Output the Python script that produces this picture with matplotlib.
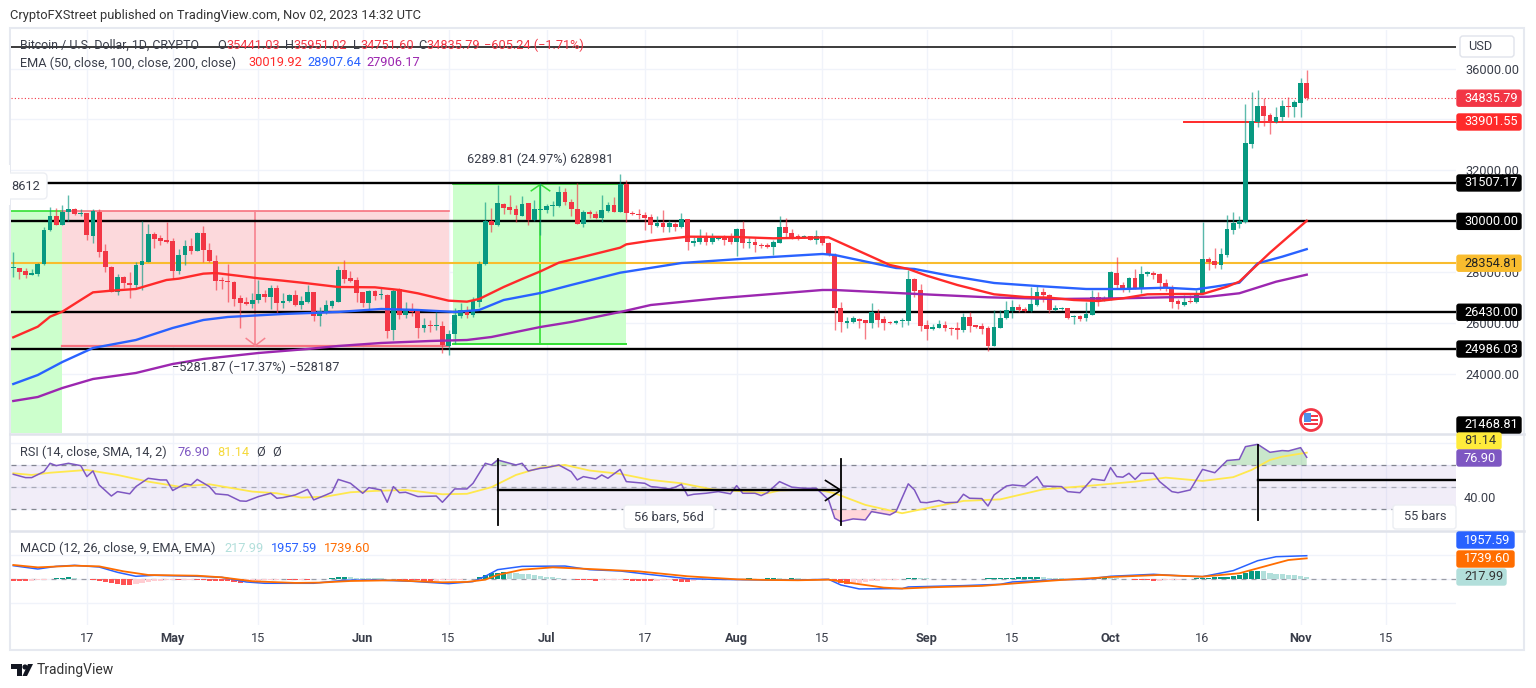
import matplotlib
matplotlib.use("Agg")
import matplotlib.pyplot as plt
import numpy as np
from matplotlib.patches import Rectangle, Circle, Polygon, FancyBboxPatch
from matplotlib.transforms import IdentityTransform

plt.rcParams['font.family'] = ['Roboto', 'DejaVu Sans']

W, H = 1536, 688

# --- datos diarios BTC/USD, 5 abr - 2 nov 2023 ---
opens = [
    28180,28180,28060,27910,27930,28310,29650,30220,29870,30380,
    30500,30300,30330,29440,30380,28820,28220,27230,27810,27590,
    27500,28270,28400,29490,29330,29250,29230,28060,28670,29030,
    28830,29530,28890,28440,27680,27660,27630,26990,26820,26770,
    26900,27150,27030,27380,26790,26860,27110,26730,26830,27230,
    26300,26400,26690,26850,28090,27760,27680,27230,26810,27270,
    27090,27110,25720,27360,26320,26520,26490,25820,25930,25890,
    25900,25100,25560,26300,26520,26320,26850,28310,30010,29860,
    30690,30560,30470,30220,30710,30070,30450,30450,30590,30600,
    31170,30770,30500,29910,30370,30300,30120,30410,30640,30350,
    31470,30330,30290,30260,30180,29830,29920,29780,29900,29760,
    30090,29160,29180,29330,29190,29310,29360,29330,29200,29700,
    29150,29190,29080,29070,29010,29160,29760,29560,29410,29370,
    29420,29280,29420,29150,28680,26610,26020,26050,26180,26110,
    26020,26400,26150,26050,25990,26100,26100,27740,27290,25920,
    25760,25820,25940,25810,25780,25720,26240,25920,25880,25820,
    25120,25820,26190,26490,26620,26570,26490,26710,27230,27120,
    26530,26560,26580,26230,26280,26190,26340,27030,26900,26920,
    27990,27500,27380,27780,27370,27940,27990,27920,27580,27400,
    26870,26710,26880,26830,27170,28520,28430,28300,28690,29660,
    29900,29970,33040,33900,34520,34180,33900,34090,34540,34500,
    34660,35441]
highs = [
    28780,28180,28150,28130,28350,29760,30550,30510,30640,31030,
    30540,30480,30340,30470,30470,29100,28260,27920,27840,28000,
    28390,30010,29880,29590,29460,29970,29330,28910,29250,29330,
    29570,29830,29160,28680,27830,28310,27660,27110,27040,27170,
    27700,27300,27500,27500,27190,27160,27300,27080,27500,27240,
    26640,26910,26910,28260,28470,28050,27830,27240,27300,27300,
    27430,27130,27340,27400,26850,26780,26520,26220,26110,26450,
    26090,25750,26580,26780,26680,27030,28440,30770,30510,31430,
    30720,31030,30640,31010,30720,30840,31490,30690,30800,31400,
    31320,30880,31490,30450,30430,30410,31030,30770,30960,31860,
    31640,30410,30470,30350,30270,30200,30450,30040,29990,30340,
    30090,29380,29700,29570,29530,29400,29460,29530,29750,30010,
    29400,29360,29140,29140,29270,30200,30120,29700,29490,29460,
    29440,29660,29440,29200,28760,26820,26260,26270,26220,26140,
    26790,26560,26270,26090,26140,26190,28090,27760,27530,26110,
    25980,26110,26090,25860,26030,26400,26430,25930,25990,25890,
    26520,26520,26870,26900,26740,26640,27420,27470,27400,27160,
    26710,26640,26610,26320,26320,26850,27300,27210,27080,28050,
    28610,27630,27830,28120,28260,28060,28060,27990,27720,27490,
    26940,27090,27120,27300,29990,28610,28950,28940,30240,30350,
    30210,34610,35080,35160,34840,34240,34500,34770,34870,34770,
    35620,35951]
lows = [
    27810,27740,27760,27890,27840,28290,29620,29860,29860,30010,
    30250,30200,29270,29140,28610,28020,27210,27110,27370,27000,
    27370,27300,28390,28940,29070,29140,27720,27920,28290,28700,
    28830,28390,28390,27300,27330,26820,26690,25820,26710,26610,
    26780,26850,26560,26360,26610,26820,26690,26560,26810,26100,
    25890,26370,26580,26820,27570,27600,26850,26650,26530,26920,
    26950,25430,25350,26160,26220,26300,25430,25670,25640,25730,
    24830,24750,25170,26190,26220,26260,26650,28290,29570,29830,
    30270,30270,29960,30200,29860,30010,29460,30330,30210,30580,
    30640,30220,29880,29760,30140,30090,29960,30380,30350,30350,
    29990,30250,30100,29660,29540,29760,29590,29590,29620,29750,
    28860,29040,29100,29070,29110,29270,29070,29120,28640,28940,
    28970,28810,28970,28970,28680,29140,29330,29310,29270,29330,
    29270,29110,29070,28650,25730,25670,25800,26010,25820,25380,
    25820,25860,25750,25980,25960,25860,25930,27040,25710,25330,
    25730,25800,25690,25540,25380,25640,25640,25800,25590,24920,
    25100,25800,26160,26220,26430,26450,26430,26690,26820,26390,
    26490,26520,26160,25980,26100,26090,26320,26690,26870,26910,
    27340,27210,27240,27360,27200,27850,27750,27300,27280,26580,
    26560,26680,26810,26810,27150,28090,28150,28120,28610,29500,
    29730,29920,32880,33720,33740,33420,33880,33930,34110,34090,
    34110,34752]
closes = [
    28210,28020,27890,27970,28330,29660,30220,29870,30380,30480,
    30300,30330,29450,30390,28800,28220,27240,27810,27570,27510,
    28290,28430,29490,29320,29240,29190,28060,28690,29030,28820,
    29530,28870,28440,27670,27640,27600,26950,26790,26770,26910,
    27150,27030,27380,26790,26890,27120,26730,26860,27230,26300,
    26480,26710,26860,28090,27740,27670,27200,26810,27270,27070,
    27120,25690,27280,26320,26520,26450,25820,25920,25900,25930,
    25140,25580,26320,26520,26320,26870,28340,30010,29870,30710,
    30540,30430,30250,30690,30070,30470,30470,30620,30630,31170,
    30750,30480,29910,30370,30270,30120,30430,30640,30380,31470,
    30310,30270,30250,30140,29860,29930,29780,29930,29760,30090,
    29180,29230,29360,29200,29330,29360,29270,29180,29700,29140,
    29190,29070,29030,29010,29200,29760,29530,29370,29370,29420,
    29280,29410,29140,28680,26610,26030,26090,26190,26090,26020,
    26430,26140,26020,25990,26100,26130,27740,27270,25890,25760,
    25850,25960,25800,25770,25750,26240,25900,25850,25780,25120,
    25850,26220,26520,26640,26520,26490,26750,27230,27100,26520,
    26580,26600,26220,26270,26150,26360,27030,26880,26940,28000,
    27500,27400,27790,27380,27940,28000,27910,27570,27370,26850,
    26740,26850,26820,27200,28520,28390,28300,28720,29700,29930,
    30000,33080,33940,34520,34150,33910,34110,34540,34490,34690,
    35440,34836]

# EMAs (barra, valor)
ema50_bars = [0,4,6,8,11,13,16,20,25,27,31,33,37,40,44,48,53,59,63,66,71,74,76,80,83,86,89,92,99,100,104,110,118,124,133,143,146,149,154,160,165,169,173,177,181,185,190,194,198,200,203,205,208,211]
ema50_vals = [25445,25864,26257,26453,26911,27212,27278,27343,27697,27749,27945,27971,27854,27762,27670,27566,27422,27409,27304,27173,26885,26846,26951,27422,27736,28037,28377,28548,28966,29097,29241,29398,29385,29333,29372,28286,28129,27867,27500,27134,27029,27003,26911,26872,26977,27134,27147,27147,27434,27631,28312,28770,29398,30020]
ema100_bars = [0,4,8,13,20,26,31,35,44,53,60,66,72,76,80,86,91,99,109,121,132,134,144,147,153,160,167,175,181,188,193,196,200,203,207,211]
ema100_vals = [23612,23966,24476,25026,25340,25812,26126,26244,26362,26441,26558,26519,26441,26519,26911,27186,27500,27983,28364,28561,28718,28678,28168,28129,27854,27579,27461,27343,27343,27394,27331,27434,27590,28351,28612,28908]
ema200_bars = [0,4,8,13,20,26,31,40,48,53,60,68,74,78,86,91,99,104,115,132,134,145,159,170,181,188,195,200,206,211]
ema200_vals = [22945,23102,23455,23809,24045,24398,24594,24830,24987,25105,25223,25301,25340,25458,25851,26047,26440,26715,26978,27304,27304,27175,27017,26950,26978,27017,27040,27175,27630,27906]

rsi_bars = [0,2,3,5,6,7,9,11,12,13,14,16,17,19,20,22,24,25,26,28,29,30,32,33,35,37,38,40,42,43,44,46,48,49,51,52,53,55,57,58,60,61,62,63,64,66,69,70,72,74,75,77,78,79,81,82,83,84,86,87,89,91,92,93,95,96,97,99,100,103,104,105,107,108,109,110,111,113,115,117,118,119,121,122,123,125,127,129,131,133,134,135,137,139,140,142,143,144,146,147,148,149,151,152,154,155,156,158,159,160,162,163,165,167,168,171,172,174,176,178,179,180,181,182,183,184,186,187,189,190,192,194,196,198,200,201,203,205,207,208,210,211]
rsi_vals = [61.6,58.6,58.6,64,71.5,69.4,71.5,69.4,59.5,64.6,52,42,46,44,50.5,58,56.5,56.5,47,53,52,57,50.5,44,43,37.6,37.3,41.5,44.5,40,40.6,43,48,38.5,43,45.4,57,53.5,44.5,49.6,47.5,36.4,50.5,45,45.4,41.5,42,36.4,48.4,48.4,53.5,71.5,70,74.5,71.5,70,71.5,64.6,67,67.6,70,64,56.5,59.5,57.4,61,58,66,55,53.5,50.5,50,48.4,50,52.6,42.4,43.6,44.5,46,44,51.4,44.5,44.5,42.4,45,55,50,49,49,38.5,22,19,21.4,20.5,28,26,25,28,53,47.5,36.4,36,38,36,36.4,43.6,40,39.7,33,43,51,52,51,59.5,51,50.5,46,45,57.4,56,67.6,59.5,59,62.5,57,62.5,62.5,55,46,45,47.5,66,63,74,75,86.5,88.6,81.4,83,82.6,85.6,76.9]
rsi_sma_bars = [0,3,6,12,17,22,27,32,39,43,47,51,55,59,64,70,74,78,82,86,90,94,99,104,109,114,118,123,125,131,134,139,145,149,155,161,168,175,183,188,194,199,202,205,207,211]
rsi_sma_vals = [62.5,61,63,65.5,61,55,50.5,52.6,46,44.5,40.6,41.5,45.4,46.6,47.5,43.6,44,50,61,67.6,70,65,62,56.5,53.5,48,46.6,44.5,47,48,44.5,34,26.5,31,37.6,39,48,51,55,58.6,55.6,59,65.5,74.5,77.5,81.1]

macd_bars = [0,4,7,10,14,17,20,23,30,34,38,41,49,54,59,65,71,75,77,79,83,90,94,99,104,110,114,123,128,133,135,138,145,146,155,161,163,171,175,179,186,190,194,199,203,206,211]
macd_vals = [1130,855,1075,1160,1020,580,250,330,250,165,-220,-330,-330,-80,-55,-165,-360,-190,250,800,1075,1100,800,690,390,55,0,-55,-55,0,-470,-800,-770,-635,-525,-415,-220,-30,0,250,415,300,220,720,1545,1875,1958]
signal_bars = [0,4,10,14,18,22,30,34,39,46,50,55,62,70,74,77,79,83,88,94,102,110,118,123,128,133,137,142,145,150,158,165,171,179,187,194,200,205,208,211]
signal_vals = [1190,990,1130,1075,660,360,300,165,-165,-300,-275,-140,-80,-250,-220,-30,360,800,990,855,660,250,0,-55,-80,-30,-330,-690,-770,-660,-550,-275,-55,190,360,220,500,1190,1600,1740]
hist_vals = [
    -100,-100,-110,-100,-60,-30,40,70,100,150,
    100,60,30,-40,-100,-200,-300,-400,-450,-480,
    -350,-300,-200,-130,-100,-60,-40,-60,-50,-30,
    -40,-70,-100,-120,-150,-180,-230,-280,-200,-150,
    -100,-60,-30,-20,-10,-20,-30,-20,-20,10,
    30,60,100,170,180,160,130,120,100,90,
    70,50,30,-30,-50,-80,-90,-100,-120,-100,
    -60,-40,-30,-20,20,60,200,350,500,560,
    600,580,500,450,400,330,280,220,160,100,
    50,30,-20,-60,-90,-110,-90,-60,-40,-30,
    -30,-100,-110,-120,-130,-100,-80,-60,-150,-210,
    -210,-120,-60,-30,-20,-30,20,40,50,60,
    70,50,60,70,80,70,60,80,70,60,
    50,60,40,-20,-150,-330,-400,-380,-300,-200,
    -150,-100,-60,-40,-20,-10,100,130,120,80,
    60,50,40,30,40,30,20,30,50,70,
    80,90,110,130,160,170,180,200,190,130,
    110,90,60,40,50,60,70,80,100,90,
    70,50,20,-20,-50,-90,-110,-100,-80,-40,
    -20,30,60,80,100,130,150,180,200,260,
    330,500,680,720,650,560,470,420,380,330,
    280,218]

# niveles horizontales
level_black = [31507.17, 30000.00, 26430.00, 24986.03]
level_top = 36850
level_orange = 28354.81
level_red = 33901.55
last_close = 34835.79

# ejes de tiempo
time_ticks = [12, 26, 40, 57, 71, 87, 103, 118, 132, 149, 163, 179, 194, 210, 224]
time_labels = ['17', 'May', '15', 'Jun', '15', 'Jul', '17', 'Aug', '15', 'Sep', '15', 'Oct', '16', 'Nov', '15']
months = ['May', 'Jun', 'Jul', 'Aug', 'Sep', 'Oct', 'Nov']
price_ticks = [24000, 26000, 28000, 30000, 32000, 34000, 36000]

GREEN, RED = '#089981', '#F23645'
LINE_RED, BLUE, PURPLE = '#FF2A2A', '#2962FF', '#9C27B0'
GRID = '#F0F3FA'
TXT = '#3A3E4A'
FS = 9.2

fig = plt.figure(figsize=(W / 100, H / 100), dpi=100, facecolor='white')
ident = IdentityTransform()


def make_ax(top, bottom):
    # paneles colocados en pixeles de la imagen
    ax = fig.add_axes([11 / W, (H - bottom) / H, 1445 / W, (bottom - top) / H])
    ax.set_xlim(-0.375, 235.35)
    for s in ax.spines.values():
        s.set_visible(False)
    ax.set_xticks(time_ticks)
    ax.tick_params(length=0, labelbottom=False, labelleft=False)
    ax.grid(True, color=GRID, lw=1)
    ax.set_axisbelow(True)
    return ax


def ptext(x, y, s, color=TXT, size=FS, **kw):
    kw.setdefault('va', 'center')
    fig.text(x / W, (H - y) / H, s, color=color, fontsize=size, **kw)


def badge(ax, y, s, fc, width=66, tc='white', ypx=None):
    # etiqueta de precio en el eje derecho
    yd = ax.transData.transform((0, y))[1] if ypx is None else H - ypx
    fig.add_artist(FancyBboxPatch((1457, yd - 8), width - 2, 16, boxstyle='round,pad=0,rounding_size=2',
                                  fc=fc, ec=fc, lw=1, transform=ident, zorder=20))
    fig.text(1464 / W, yd / H, s, color=tc, fontsize=FS, va='center', zorder=21)


# --- panel principal ---
ax = make_ax(30, 433)
ax.set_ylim(21688, 37514)
ax.set_yticks(price_ticks)
ax.yaxis.tick_right()
ax.tick_params(axis='y', labelright=True, pad=7, labelsize=FS, labelcolor=TXT)
ax.set_yticklabels([f'{t:.2f}' for t in price_ticks])

# zonas de las posiciones
ax.add_patch(Rectangle((-0.375, 21688), 8.4, 30406 - 21688, fc='#CCFFCC', ec='none', zorder=1))
ax.plot([-0.375, 8], [30406, 30406], color='#33E033', lw=1.2, zorder=2)
ax.add_patch(Rectangle((8, 25105), 63, 30406 - 25105, fc='#FCD9DC', ec='none', zorder=1))
ax.plot([8, 71], [30406, 30406], color='#F7727F', lw=1.2, zorder=2)
ax.plot([8, 71], [25105, 25105], color='#F7727F', lw=1.6, zorder=2)
ax.plot([39.5, 39.5], [30406, 25105], color='#F7828E', lw=1.2, zorder=2)
ax.plot([38, 39.5, 41], [25400, 25125, 25400], color='#F7828E', lw=1.1, zorder=2)
ax.add_patch(Rectangle((71.8, 25181), 28.1, 31471 - 25181, fc='#CCFFCC', ec='none', zorder=1))
ax.plot([71.8, 99.9], [31471, 31471], color='#33E033', lw=1.2, zorder=2)
ax.plot([71.8, 99.9], [25181, 25181], color='#33E033', lw=1.4, zorder=2)
ax.plot([86, 86], [25181, 31471], color='#33E033', lw=1.2, zorder=2)
ax.plot([84.5, 86, 87.5], [31200, 31451, 31200], color='#33E033', lw=1.1, zorder=2)

# niveles
ax.axhline(level_top, color='#1A1A1A', lw=1.2, zorder=9)
for lv in level_black:
    ax.axhline(lv, color='black', lw=1.7, zorder=3)
ax.axhline(level_orange, color='#F9BC2E', lw=1.5, zorder=3)
ax.plot([190.9, 235.35], [level_red, level_red], color=LINE_RED, lw=1.4, zorder=3)
ax.axhline(last_close, color=RED, lw=0.8, ls=(0, (1, 2)), zorder=3)

# velas
bars = np.arange(len(opens))
o, h, l, c = map(np.array, (opens, highs, lows, closes))
col = np.where(c >= o, GREEN, RED)
ax.vlines(bars, l, h, color=col, lw=1, alpha=0.65, zorder=4)
ax.bar(bars, np.maximum(np.abs(c - o), 45), bottom=np.minimum(o, c), width=0.78, color=col, lw=0, zorder=5)

# medias
ax.plot(ema100_bars, ema100_vals, color=BLUE, lw=1.7, zorder=6)
ax.plot(ema200_bars, ema200_vals, color=PURPLE, lw=1.7, zorder=6)
ax.plot(ema50_bars, ema50_vals, color=LINE_RED, lw=1.7, zorder=6)

ax.text(86, 32430, '6289.81 (24.97%) 628981', ha='center', va='center', color=TXT, fontsize=FS, zorder=8)
ax.text(39.5, 24270, '\u22125281.87 (\u221217.37%) \u2212528187', ha='center', va='center', color=TXT, fontsize=FS, zorder=8)

# --- panel RSI ---
ax_rsi = make_ax(435, 530)
ax_rsi.set_ylim(11.4, 97)
ax_rsi.set_yticks([30, 50, 70, 90])
ax_rsi.axhspan(30, 70, color='#7E57C2', alpha=0.1, lw=0, zorder=1)
for v in (30, 50, 70):
    ax_rsi.axhline(v, color='#787B86', lw=0.9, ls=(0, (4, 4)), zorder=2, alpha=0.9 if v != 50 else 0.55)
rx = np.array(rsi_bars)
ry = np.array(rsi_vals)
ax_rsi.fill_between(rx, 70, ry, where=ry > 70, interpolate=True, color='#66BB6A', alpha=0.35, lw=0, zorder=2)
ax_rsi.fill_between(rx, 30, ry, where=ry < 30, interpolate=True, color='#FF6F7D', alpha=0.28, lw=0, zorder=2)
ax_rsi.plot(rsi_sma_bars, rsi_sma_vals, color='#FFE84D', lw=1.3, zorder=3)
ax_rsi.plot(rx, ry, color='#7E57C2', lw=1.1, zorder=4)

# herramientas de rango
ax_rsi.plot([79, 79], [75.4, 15.5], color='black', lw=1.3, zorder=5)
ax_rsi.plot([135, 135], [75.4, 15.5], color='black', lw=1.3, zorder=5)
ax_rsi.plot([79, 135], [47.2, 47.2], color='black', lw=1.7, zorder=5)
ax_rsi.plot([132.5, 135, 132.5], [56, 47.2, 38], color='black', lw=1.2, zorder=5)
ax_rsi.plot([203, 203], [88, 20], color='black', lw=1.3, zorder=5)
ax_rsi.plot([203, 235.35], [56.2, 56.2], color='black', lw=1.7, zorder=5)

# --- panel MACD ---
ax_macd = make_ax(532, 625)
ax_macd.set_ylim(-3793, 3926)
ax_macd.set_yticks([-2000, 0, 2000])
ax_macd.axhline(0, color='#787B86', lw=0.9, ls=(0, (4, 4)), alpha=0.7, zorder=1)
hv = np.array(hist_vals)
prev = np.r_[hv[0], hv[:-1]]
hist_col = np.where(hv >= 0, np.where(hv >= prev, '#089981', '#B2DFDB'), np.where(hv <= prev, '#FF5252', '#FFCDD2'))
ax_macd.bar(np.arange(len(hv)), hv, width=0.85, color=hist_col, lw=0, zorder=2)
ax_macd.plot(macd_bars, macd_vals, color=BLUE, lw=1.1, zorder=3)
ax_macd.plot(signal_bars, signal_vals, color='#FF6D00', lw=1.3, zorder=4)
ax_macd.tick_params(axis='x', labelbottom=True, pad=5, labelsize=FS, labelcolor=TXT)
ax_macd.set_xticklabels(time_labels)
for lab in ax_macd.get_xticklabels():
    if lab.get_text() in months:
        lab.set_fontweight('bold')

# --- marcos ---
fig.add_artist(Rectangle((10, H - 650), 1514, 622, fc='none', ec='#E6E9F0', lw=1.5, transform=ident, zorder=0))
for ypx in (434, 531):
    fig.add_artist(plt.Line2D([10, 1524], [H - ypx, H - ypx], color='#E0E3EB', lw=1.8, transform=ident, zorder=9))
fig.add_artist(FancyBboxPatch((1460, H - 57), 54, 21, boxstyle='round,pad=0,rounding_size=3', fc='white',
                              ec='#E0E3EB', lw=1, transform=ident, zorder=19))
ptext(1468, 46.5, 'USD', zorder=21)

# --- textos ---
ptext(10, 16, 'CryptoFXStreet published on TradingView.com, Nov 02, 2023 14:32 UTC', color='#333333', size=9.3)
ptext(20, 45.5, 'Bitcoin / U.S. Dollar, 1D, CRYPTO', size=8.9)
for x, s, cc in [(217, 'O', TXT), (226, '35441.03', RED), (285, 'H', TXT), (293, '35951.02', RED), (353, 'L', TXT),
                 (360, '34751.60', RED), (418, 'C', TXT), (426, '34835.79', RED), (484, '\u2212605.24 (\u22121.71%)', RED)]:
    ptext(x, 45.5, s, color=cc)
ptext(20, 63, 'EMA (50, close, 100, close, 200, close)')
for x, s, cc in [(248, '30019.92', LINE_RED), (307, '28907.64', BLUE), (366, '27906.17', PURPLE)]:
    ptext(x, 63, s, color=cc)
ptext(20, 452, 'RSI (14, close, SMA, 14, 2)')
for x, s, cc in [(177, '76.90', '#7E57C2'), (217, '81.14', '#F5D93B'), (256, '\u00d8', TXT), (272, '\u00d8', TXT)]:
    ptext(x, 452, s, color=cc)
ptext(20, 548, 'MACD (12, 26, close, 9, EMA, EMA)')
for x, s, cc in [(224, '217.99', '#B2DFDB'), (271, '1957.59', BLUE), (324, '1739.60', '#FF6D00')]:
    ptext(x, 548, s, color=cc)

# recuadros de barras y etiqueta izquierda
for x0, x1, s in [(624, 714, '56 bars, 56d'), (1393, 1456, '55 bars')]:
    fig.add_artist(FancyBboxPatch((x0, H - 529), x1 - x0, 24, boxstyle='round,pad=0,rounding_size=3', fc='white',
                                  ec='#ECEEF3', lw=1, transform=ident, zorder=10))
    ptext((x0 + x1) / 2 + (1 if s == '55 bars' else 0), 517, s, ha='center', zorder=11)
fig.add_artist(FancyBboxPatch((6, H - 199), 41, 26, boxstyle='round,pad=0,rounding_size=4', fc='white',
                              ec='#ECEEF3', lw=1, transform=ident, zorder=10))
fig.add_artist(Rectangle((0, H - 205), 10, 40, fc='white', ec='none', transform=ident, zorder=10))
ptext(11, 186, '8612', zorder=11)

# etiquetas del eje de precios
badge(ax, last_close, '34835.79', '#F23645')
badge(ax, level_red, '33901.55', '#FF2A2A')
badge(ax, 31507.17, '31507.17', 'black')
badge(ax, 30000.00, '30000.00', 'black')
badge(ax, 28354.81, '28354.81', '#F9BC2E', tc='#222222')
badge(ax, 26430.00, '26430.00', 'black')
badge(ax, 24986.03, '24986.03', 'black')
badge(ax, 21468.81, '21468.81', 'black', ypx=425)
badge(ax_rsi, 81.14, '81.14', '#FFEB3B', width=46, tc='#333333', ypx=441)
badge(ax_rsi, 76.90, '76.90', '#7E57C2', width=46, ypx=458)
ptext(1464, 498, '40.00')
badge(ax_macd, 1957.59, '1957.59', BLUE, width=59, ypx=540)
badge(ax_macd, 1739.60, '1739.60', '#FF6D00', width=59, ypx=559)
badge(ax_macd, 217.99, '217.99', '#B2DFDB', width=51, tc='#333333', ypx=577)

# icono del evento economico
fig.add_artist(Circle((1311, H - 420), 10.5, fc='white', ec='#F23645', lw=2, transform=ident, zorder=12))
for yy in (416, 420, 424):
    fig.add_artist(Rectangle((1304, H - yy - 1), 14, 2, fc='#F23645', ec='none', transform=ident, zorder=13))
fig.add_artist(Rectangle((1304, H - 422), 7, 9, fc='#4D90E8', ec='none', transform=ident, zorder=14))

# logo TradingView
fig.add_artist(Polygon([(11, H - 664), (22, H - 664), (22, H - 676), (17, H - 676), (17, H - 669), (11, H - 669)],
                       fc='#131722', ec='none', transform=ident))
fig.add_artist(Circle((25, H - 667), 2.6, fc='#131722', ec='none', transform=ident))
fig.add_artist(Polygon([(28, H - 664), (33, H - 664), (27, H - 676), (22.5, H - 676)], fc='#131722', ec='none', transform=ident))
ptext(37, 670, 'TradingView', color='#333333', size=10)

fig.savefig('out.png', dpi=100)
